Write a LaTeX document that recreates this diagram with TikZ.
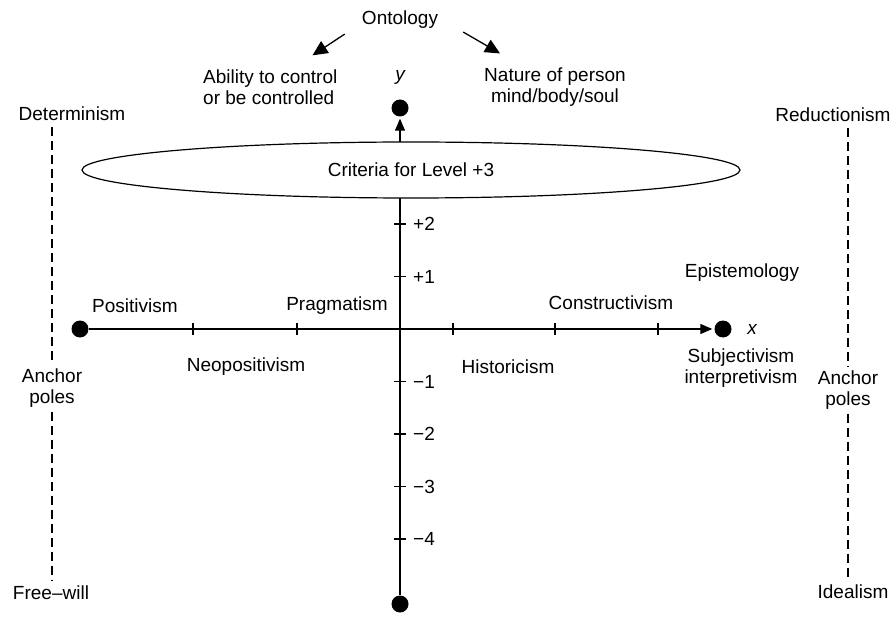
\documentclass[tikz,border=0pt]{standalone}
\usepackage{fontspec}
\setmainfont{Liberation Sans}
\usetikzlibrary{arrows.meta,shapes.geometric}

\begin{document}
\begin{tikzpicture}[
    x=1pt, y=-1pt,
    every node/.style={font=\fontsize{19}{21}\selectfont, inner sep=0pt, align=center},
    pole/.style={circle, fill, minimum size=17pt},
    axis/.style={line width=1.3pt, -{Triangle[length=12pt,width=10pt]}},
    ontoarrow/.style={line width=1.3pt, -{Triangle[length=15pt,width=14pt]}},
    anchorline/.style={line width=1.2pt, dash pattern=on 9pt off 5pt},
    tick/.style={line width=1.2pt}
]
\useasboundingbox (0,0) rectangle (893,617);

% ontology
\node (onto) at (400,20) {Ontology};
\node[anchor=west, align=left] (ability) at (203,87) {Ability to control\\or be controlled};
\node (nature) at (555,87) {Nature of person\\mind/body/soul};
\draw[ontoarrow] ([shift={(-17,5)}]onto.south west) -- ([shift={(-25,-14)}]ability.north east);
\draw[ontoarrow] ([shift={(25,3)}]onto.south east) -- ([shift={(16,-14)}]nature.north west);

% poles of the axes
\node[pole] (ytop) at (400,108) {};
\node[pole] (ybot) at (400,604) {};
\node[pole] (xneg) at (80,329) {};
\node[pole] (xpos) at (723,329) {};
\node[font=\fontsize{19}{21}\selectfont\itshape] (ylab) at (400,77) {y};
\node[font=\fontsize{19}{21}\selectfont\itshape] (xlab) at (752,329) {x};

% axes
\draw[axis] (ybot.north) -- ([yshift=-2pt]ytop.south);
\draw[axis] (xneg.east) -- ([xshift=-2pt]xpos.west);
\coordinate (o) at (400,329);

% ticks
\foreach \k/\t in {2/+2, 1/+1, -1/\textminus1, -2/\textminus2, -3/\textminus3, -4/\textminus4} {
    \draw[tick] ([shift={(-6,-52.5*\k)}]o) -- ([shift={(6,-52.5*\k)}]o);
    \node[anchor=west] at ([shift={(13,-52.5*\k)}]o) {\t};
}
\foreach \dx in {-207,-103,53,155,258}
    \draw[tick] ([shift={(\dx,-6)}]o) -- ([shift={(\dx,6)}]o);

% criteria ellipse
\node[draw, ellipse, line width=1.2pt, fill=white, minimum width=658pt, minimum height=56pt] (crit) at (411,170) {Criteria for Level +3};

% positions on x
\node (posit) at (135,306) {Positivism};
\node (pragm) at (337,306) {Pragmatism};
\node (neopo) at (246,367) {Neopositivism};
\node (histo) at (508,367) {Historicism};
\node (const) at (611,303) {Constructivism};
\node (epist) at (742,273) {Epistemology};
\node (subje) at (741,368) {Subjectivism\\interpretivism};

% anchor poles left
\node (determ) at (72,114) {Determinism};
\node (lpoles) at (52,388) {Anchor\\poles};
\node (freew) at (51,593) {Free\textendash will};
\draw[anchorline] ([yshift=-6pt]determ.south -| lpoles.north) -- ([yshift=4pt]lpoles.north);
\draw[anchorline] ([yshift=-4pt]lpoles.south) -- ([yshift=6pt]freew.north -| lpoles.south);

% anchor poles right
\node (reduc) at (833,115) {Reductionism};
\node (rpoles) at (848,390) {Anchor\\poles};
\node (ideal) at (853,592) {Idealism};
\draw[anchorline] ([yshift=-6pt]reduc.south -| rpoles.north) -- ([yshift=4pt]rpoles.north);
\draw[anchorline] ([yshift=-4pt]rpoles.south) -- ([yshift=6pt]ideal.north -| rpoles.south);
\end{tikzpicture}
\end{document}
